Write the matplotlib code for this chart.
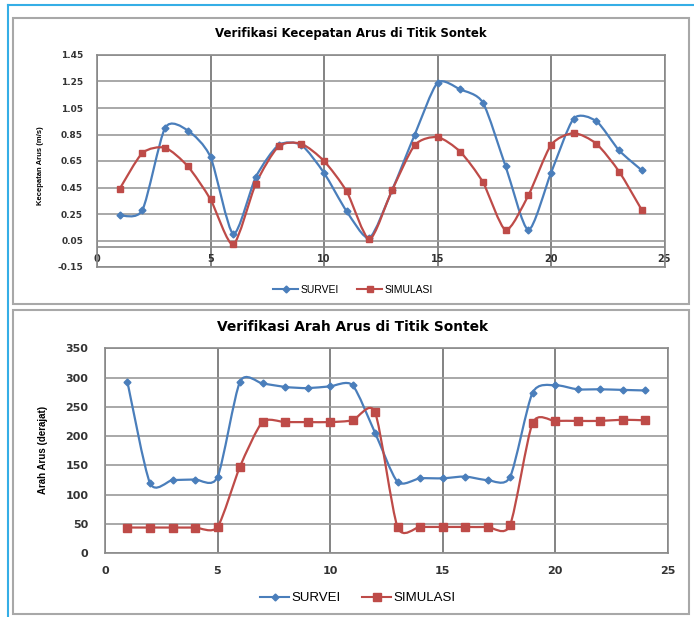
import matplotlib
matplotlib.use("Agg")
import matplotlib.pyplot as plt
from matplotlib.path import Path
from matplotlib.patches import PathPatch, Rectangle
from matplotlib.lines import Line2D

# jam ke-
jam = list(range(1, 25))

# kecepatan arus (m/s)
kec_survei = [0.24, 0.28, 0.90, 0.88, 0.68, 0.10, 0.53, 0.77, 0.77, 0.56, 0.27, 0.07,
              0.43, 0.85, 1.24, 1.19, 1.09, 0.61, 0.13, 0.56, 0.97, 0.95, 0.73, 0.58]
kec_simulasi = [0.44, 0.71, 0.75, 0.61, 0.36, 0.02, 0.48, 0.76, 0.78, 0.65, 0.42, 0.06,
                0.43, 0.77, 0.83, 0.72, 0.49, 0.13, 0.39, 0.77, 0.86, 0.78, 0.57, 0.28]

# arah arus (derajat)
arah_survei = [292, 120, 125, 126, 130, 293, 290, 284, 282, 285, 287, 206,
               122, 128, 128, 131, 125, 130, 274, 287, 280, 280, 279, 278]
arah_simulasi = [44, 44, 44, 44, 45, 148, 224, 224, 224, 224, 227, 241,
                 45, 45, 45, 45, 45, 48, 222, 226, 226, 226, 228, 227]

BLUE = "#4a7ebb"
RED = "#be4b48"
FONT = "Liberation Sans"
TICKFONT = "DejaVu Sans"
TENSION = 0.12


def smooth_path(x, y):
    # kurva mulus ala Excel (bezier kubik)
    pts = list(zip(x, y))
    verts = [pts[0]]
    codes = [Path.MOVETO]
    n = len(pts)
    for i in range(n - 1):
        p0 = pts[i - 1] if i > 0 else pts[i]
        p1 = pts[i]
        p2 = pts[i + 1]
        p3 = pts[i + 2] if i + 2 < n else pts[i + 1]
        c1 = (p1[0] + (p2[0] - p0[0]) * TENSION, p1[1] + (p2[1] - p0[1]) * TENSION)
        c2 = (p2[0] - (p3[0] - p1[0]) * TENSION, p2[1] - (p3[1] - p1[1]) * TENSION)
        verts += [c1, c2, p2]
        codes += [Path.CURVE4] * 3
    return Path(verts, codes)


def draw_series(ax, x, y, color, marker, ms):
    ax.add_patch(PathPatch(smooth_path(x, y), facecolor="none",
                           edgecolor=color, linewidth=1.6, zorder=3))
    ax.plot(x, y, linestyle="none", marker=marker, markersize=ms,
            color=color, zorder=4)


def style_axes(ax):
    for s in ax.spines.values():
        s.set_color("#8a8a8a")
        s.set_linewidth(1.2)
    ax.grid(True, axis="y", color="#9a9a9a", linewidth=1.2)
    ax.grid(True, axis="x", color="#6e6e6e", linewidth=1.2)
    ax.set_axisbelow(True)


fig = plt.figure(figsize=(6.94, 6.17), dpi=100)

# bingkai
fig.add_artist(Rectangle((13 / 694, 1 - 304 / 617), 676 / 694, 286 / 617,
                         transform=fig.transFigure, fill=False,
                         edgecolor="#a8a8a8", linewidth=1.5))
fig.add_artist(Rectangle((13 / 694, 1 - 614 / 617), 676 / 694, 304 / 617,
                         transform=fig.transFigure, fill=False,
                         edgecolor="#a8a8a8", linewidth=1.5))
fig.add_artist(Line2D([8 / 694, 8 / 694], [0, 1 - 5 / 617],
                      transform=fig.transFigure, color="#35aee6", linewidth=1.5))
fig.add_artist(Line2D([8 / 694, 1], [1 - 5 / 617, 1 - 5 / 617],
                      transform=fig.transFigure, color="#35aee6", linewidth=1.5))

# grafik kecepatan
ax1 = fig.add_axes([97 / 694, 1 - 267 / 617, 567.5 / 694, 212 / 617])
style_axes(ax1)
ax1.axhline(0, color="#8a8a8a", linewidth=1.2, zorder=1)
draw_series(ax1, jam, kec_survei, BLUE, "D", 3.5)
draw_series(ax1, jam, kec_simulasi, RED, "s", 5)
ax1.set_xlim(0, 25)
ax1.set_ylim(-0.15, 1.45)
ax1.set_xticks(range(0, 26, 5))
ax1.set_yticks([-0.15 + 0.2 * i for i in range(9)])
ax1.set_yticklabels(["-0.15", "0.05", "0.25", "0.45", "0.65", "0.85",
                     "1.05", "1.25", "1.45"])
ax1.tick_params(axis="x", pad=-9, length=0, labelsize=7, labelcolor="#333333")
ax1.tick_params(axis="y", length=0, labelsize=6.5, labelcolor="#333333", pad=10)
for lab in ax1.get_xticklabels() + ax1.get_yticklabels():
    lab.set_fontweight("bold")
    lab.set_fontfamily(TICKFONT)
fig.text(351 / 694, 1 - 33 / 617, "Verifikasi Kecepatan Arus di Titik Sontek",
         ha="center", va="center", fontsize=8.5, fontweight="bold", family=TICKFONT)
fig.text(40 / 694, 1 - 166 / 617, "Kecepatan Arus (m/s)", rotation=90,
         ha="center", va="center", fontsize=5.5, fontweight="bold", family=FONT)

# grafik arah
ax2 = fig.add_axes([105 / 694, 1 - 553.3 / 617, 562.5 / 694, 205 / 617])
style_axes(ax2)
draw_series(ax2, jam, arah_survei, BLUE, "D", 3.5)
draw_series(ax2, jam, arah_simulasi, RED, "s", 5.5)
ax2.set_xlim(0, 25)
ax2.set_ylim(0, 350)
ax2.set_xticks(range(0, 26, 5))
ax2.set_yticks(range(0, 351, 50))
ax2.tick_params(axis="x", length=0, labelsize=8, labelcolor="#333333", pad=9)
ax2.tick_params(axis="y", length=0, labelsize=8, labelcolor="#333333", pad=12)
for lab in ax2.get_xticklabels() + ax2.get_yticklabels():
    lab.set_fontweight("bold")
    lab.set_fontfamily(TICKFONT)
fig.text(353 / 694, 1 - 327 / 617, "Verifikasi Arah Arus di Titik Sontek",
         ha="center", va="center", fontsize=9.9, fontweight="bold", family=TICKFONT)
fig.text(43 / 694, 1 - 450 / 617, "Arah Arus (derajat)", rotation=90,
         ha="center", va="center", fontsize=7, fontweight="bold", family=FONT)


# legenda
def legend_handles(ms_sq):
    return [Line2D([], [], color=BLUE, marker="D", markersize=3.5, linewidth=1.5),
            Line2D([], [], color=RED, marker="s", markersize=ms_sq, linewidth=1.5)]


fig.legend(legend_handles(5), ["SURVEI", "SIMULASI"], ncol=2, frameon=False,
           loc="center", bbox_to_anchor=(353 / 694, 1 - 290 / 617),
           prop={"family": FONT, "size": 7.5}, handlelength=2.4, columnspacing=1.8,
           handletextpad=0.2)
fig.legend(legend_handles(5.5), ["SURVEI", "SIMULASI"], ncol=2, frameon=False,
           loc="center", bbox_to_anchor=(358 / 694, 1 - 598 / 617),
           prop={"family": FONT, "size": 9.5}, handlelength=2.2, columnspacing=1.6,
           handletextpad=0.2)

fig.savefig("out.png", dpi=100)
